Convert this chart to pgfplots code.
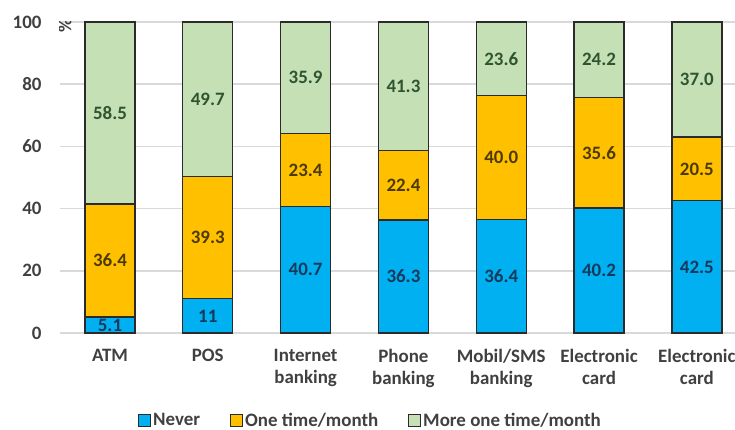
\documentclass[border=0pt]{standalone}
\usepackage{pgfplots}
\pgfplotsset{compat=1.18}
\usepackage{fontspec}
\setmainfont{Carlito}
\definecolor{cNever}{HTML}{00B0F0}
\definecolor{cOne}{HTML}{FFC000}
\definecolor{cMore}{HTML}{C5E0B4}
\definecolor{tNever}{HTML}{163A5C}
\definecolor{tOne}{HTML}{4D3A00}
\definecolor{tMore}{HTML}{2F5430}
\definecolor{txt}{HTML}{404040}
\definecolor{gridc}{HTML}{D9D9D9}
\definecolor{edge}{HTML}{2B2B2B}
\newcommand\lf{\fontsize{19}{22}\selectfont\bfseries}
\pgfplotsset{
  base/.style={scale only axis, width=675bp, height=311bp,
    xmin=-0.511, xmax=6.39, ymin=0, ymax=100},
  lgd/.style={legend image code/.code={\draw[##1, line width=1bp] (0bp,-6bp) rectangle (12bp,6bp);}},
}
\begin{document}
\begin{tikzpicture}
\useasboundingbox (-60bp,-97bp) rectangle (675bp,333bp);
\begin{axis}[base, ybar stacked, bar width=50bp,
  axis line style={draw=none}, major tick length=0pt,
  ymajorgrids, grid style={gridc, line width=1.5bp},
  ytick={0,20,40,60,80,100},
  xtick={0,1,2,3,4,5,6},
  xticklabels={ATM,POS,{Internet\\banking},{Phone\\banking},{Mobil/SMS\\banking},{Electronic\\card},{Electronic\\card}},
  xticklabel style={align=center, font=\lf, text=txt, yshift=-13bp},
  yticklabel style={font=\lf, text=txt, xshift=-15bp},
  /pgf/number format/assume math mode=true,
  legend style={draw=none, at={(0.46,-0.25)}, anchor=north, legend columns=3,
    font=\lf, text=txt, inner sep=0pt,
    /tikz/every even column/.append style={column sep=28bp}},
]
\addplot[fill=cNever, draw=edge, line width=1.3bp, lgd] coordinates {(0,5.1) (1,11) (2,40.7) (3,36.3) (4,36.4) (5,40.2) (6,42.5)};
\addplot[fill=cOne, draw=edge, line width=1.3bp, lgd] coordinates {(0,36.4) (1,39.3) (2,23.4) (3,22.4) (4,40.0) (5,35.6) (6,20.5)};
\addplot[fill=cMore, draw=edge, line width=1.3bp, lgd] coordinates {(0,58.5) (1,49.7) (2,35.9) (3,41.3) (4,23.6) (5,24.2) (6,37.0)};
\legend{Never, One time/month, More one time/month}
\node[rotate=90, font=\lf, text=txt] at (axis description cs:0.0074,0.987) {\%};
\end{axis}
\begin{axis}[base, hide axis]
\addplot[draw=none, mark=none, nodes near coords, point meta=explicit symbolic,
  every node near coord/.append style={anchor=center, font=\lf, text=tNever}]
  coordinates {(0,2.55)[5.1] (1,5.5)[11] (2,20.35)[40.7] (3,18.15)[36.3] (4,18.2)[36.4] (5,20.1)[40.2] (6,21.25)[42.5]};
\addplot[draw=none, mark=none, nodes near coords, point meta=explicit symbolic,
  every node near coord/.append style={anchor=center, font=\lf, text=tOne}]
  coordinates {(0,23.3)[36.4] (1,30.65)[39.3] (2,52.4)[23.4] (3,47.5)[22.4] (4,56.4)[40.0] (5,58.0)[35.6] (6,52.75)[20.5]};
\addplot[draw=none, mark=none, nodes near coords, point meta=explicit symbolic,
  every node near coord/.append style={anchor=center, font=\lf, text=tMore}]
  coordinates {(0,70.75)[58.5] (1,75.15)[49.7] (2,82.05)[35.9] (3,79.35)[41.3] (4,88.2)[23.6] (5,87.9)[24.2] (6,81.5)[37.0]};
\end{axis}
\end{tikzpicture}
\end{document}
